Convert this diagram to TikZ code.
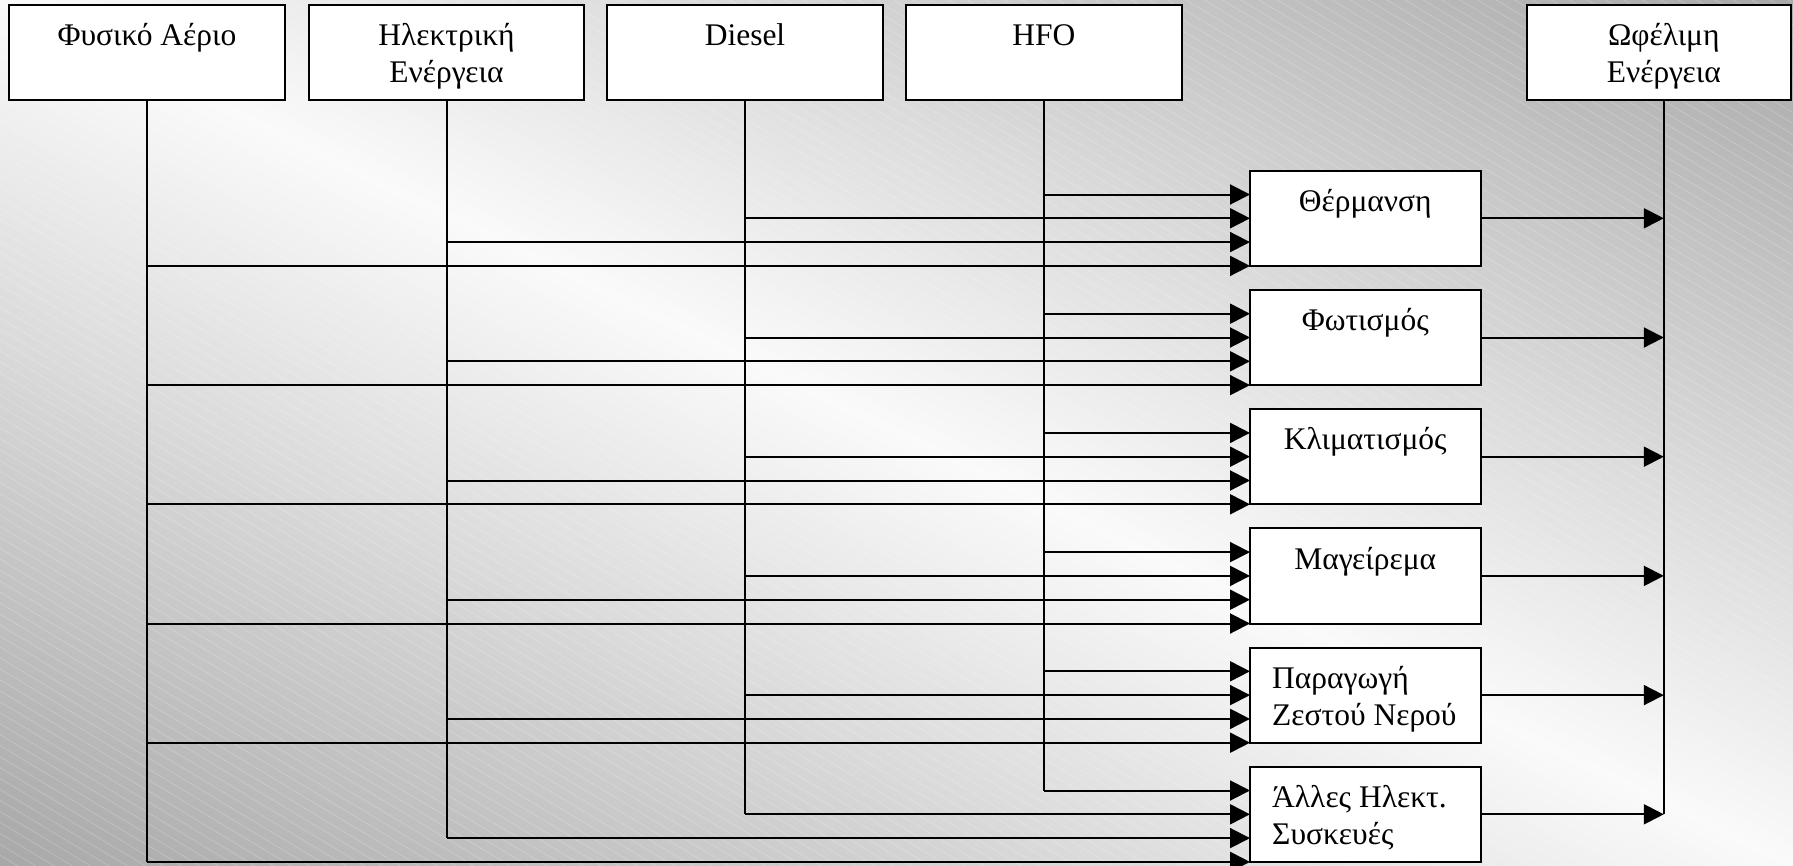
\documentclass[tikz,border=0pt]{standalone}
\usepackage{fontspec}
\setmainfont{Liberation Serif}
\usetikzlibrary{arrows.meta}
\begin{document}
\begin{tikzpicture}[x=1pt,y=-1pt,
  box/.style={draw=black, line width=2pt, fill=white, minimum width=275.6pt, minimum height=95pt, inner sep=0pt, outer sep=0pt},
  usebox/.style={draw=black, line width=2pt, fill=white, minimum width=230.5pt, minimum height=95.2pt, inner sep=0pt, outer sep=0pt},
  lbl/.style={font=\fontsize{31.5}{37.3}\selectfont, inner sep=0pt, align=center, anchor=north},
  lbll/.style={lbl, align=left, anchor=north west},
  wire/.style={line width=2pt, draw=black},
  feed/.style={wire, -{Triangle[length=20pt,width=20pt]}},
]
\useasboundingbox (0,0) rectangle (1793,865);
\clip (0,0) rectangle (1793,865);
% background gradient (diagonal band)
\begin{scope}[x={(0.9006pt,-0.4345pt)}, y={(-0.4345pt,-0.9006pt)}]
  \foreach \i in {0,...,299}{
    \pgfmathsetmacro{\sa}{-790+\i*5.3}
    \pgfmathsetmacro{\sb}{\sa+6.5}
    \pgfmathsetmacro{\sm}{\sa+2.65}
    \pgfmathsetmacro{\fr}{min(abs(\sm),779)/779}
    \pgfmathsetmacro{\p}{100*(1-(250-82*\fr)/255)}
    \fill[black!\p!white] (-100,\sa) -- (2100,\sa) -- (2100,\sb) -- (-100,\sb) -- cycle;
  }
\end{scope}
% hatch
\begin{scope}[x={(0.857pt,-0.515pt)}, y={(-0.515pt,-0.857pt)}]
  \foreach \k in {-100,...,81}{
    \draw[white, opacity=0.2, line width=0.8pt] (-100,\k*9.4) -- (2200,\k*9.4);
  }
\end{scope}
% source boxes
\node[box] (ng) at (147,52) {};
\node[box] (el) at (446.5,52) {};
\node[box] (di) at (745,52) {};
\node[box] (hf) at (1043.8,52) {};
\node[box, minimum width=264.4pt] (uo) at (1658.8,52) {};
\coordinate (uot) at ([xshift=5pt]uo.south);
\node[lbl] (tng) at (147,21) {\rule{0pt}{24pt}Φυσικό Αέριο};
\node[lbl] (tel) at (446.5,21) {\rule{0pt}{24pt}Ηλεκτρική\\Ενέργεια};
\node[lbl] (tdi) at (745,21) {\rule{0pt}{24pt}Diesel};
\node[lbl] (thf) at (1043.8,21) {\rule{0pt}{24pt}HFO};
\node[lbl] (tuo) at (1663.8,21) {\rule{0pt}{24pt}Ωφέλιμη\\Ενέργεια};
% use boxes
\foreach \k in {1,...,6}{
  \pgfmathsetmacro{\cy}{218.3+(\k-1)*119.2}
  \node[usebox] (m\k) at (1365.25,\cy) {};
}
\node[lbl] (t1) at (1365.25,187.3) {\rule{0pt}{24pt}Θέρμανση};
\node[lbl] (t2) at (1365.25,306.5) {\rule{0pt}{24pt}Φωτισμός};
\node[lbl] (t3) at (1365.25,425.7) {\rule{0pt}{24pt}Κλιματισμός};
\node[lbl] (t4) at (1365.25,544.9) {\rule{0pt}{24pt}Μαγείρεμα};
\node[lbll] (t5) at (1272,664.1) {\rule{0pt}{24pt}Παραγωγή\\Ζεστού Νερού};
\node[lbll] (t6) at (1272,783.3) {\rule{0pt}{24pt}Άλλες Ηλεκτ.\\Συσκευές};
% feed coordinates
\foreach \k in {1,...,6}{
  \coordinate (ah\k) at ([yshift=-23.8pt]m\k.north west);
  \coordinate (ad\k) at ([yshift=-47.6pt]m\k.north west);
  \coordinate (ae\k) at ([yshift=-71.4pt]m\k.north west);
  \coordinate (ag\k) at (m\k.south west);
}
% vertical trunks
\draw[wire] (ng.south) -- (ng.south |- ag6);
\draw[wire] (el.south) -- (el.south |- ae6);
\draw[wire] (di.south) -- (di.south |- ad6);
\draw[wire] (hf.south) -- (hf.south |- ah6);
\draw[wire] (uot) -- (uot |- m6.east);
% feeds
\foreach \k in {1,...,6}{
  \draw[feed] (hf.south |- ah\k) -- (ah\k);
  \draw[feed] (di.south |- ad\k) -- (ad\k);
  \draw[feed] (el.south |- ae\k) -- (ae\k);
  \draw[feed] (ng.south |- ag\k) -- (ag\k);
  \draw[feed] (m\k.east) -- (uot |- m\k.east);
}
\end{tikzpicture}
\end{document}
